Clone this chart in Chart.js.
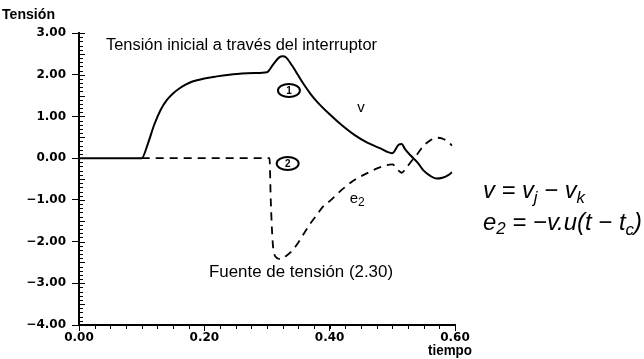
<!DOCTYPE html>
<html>
<head>
<meta charset="utf-8">
<script src="https://cdn.jsdelivr.net/npm/chart.js@4/dist/chart.umd.min.js"></script>
<style>
  html, body { margin: 0; padding: 0; background: #fff; }
  #wrap { width: 644px; height: 359px; position: relative; }
</style>
</head>
<body>
<div id="wrap"><canvas id="c" width="644" height="359"></canvas></div>
<script>
// curve v (solid): tiempo / tensión
var tV = [0, 0.10, 0.11, 0.12, 0.13, 0.14, 0.15, 0.16, 0.17, 0.18, 0.20, 0.22, 0.24, 0.26, 0.28, 0.30,
  0.31, 0.32, 0.325, 0.33, 0.34, 0.35, 0.36, 0.37, 0.38, 0.40, 0.42, 0.44, 0.46, 0.48, 0.50,
  0.51, 0.515, 0.52, 0.53, 0.54, 0.55, 0.56, 0.57, 0.58, 0.59, 0.595];
var vV = [0, 0, 0.35, 0.8, 1.15, 1.39, 1.55, 1.67, 1.76, 1.83, 1.91, 1.96, 2.0, 2.03, 2.04, 2.06,
  2.25, 2.42, 2.44, 2.42, 2.22, 1.98, 1.74, 1.53, 1.35, 1.05, 0.78, 0.55, 0.37, 0.24, 0.12,
  0.32, 0.34, 0.22, 0.05, -0.1, -0.3, -0.42, -0.49, -0.47, -0.4, -0.34];

// curve e2 (dashed)
var tE2 = [0.10, 0.304, 0.306, 0.309, 0.313, 0.322, 0.33, 0.34, 0.35, 0.36, 0.37, 0.38, 0.39, 0.40,
  0.42, 0.44, 0.46, 0.48, 0.50, 0.51, 0.515, 0.52, 0.53, 0.54, 0.55, 0.56, 0.57, 0.58, 0.59, 0.595];
var vE2 = [0, 0, -1.0, -2.0, -2.35, -2.42, -2.35, -2.22, -2.02, -1.78, -1.55, -1.35, -1.15, -1.03,
  -0.75, -0.52, -0.36, -0.22, -0.15, -0.3, -0.35, -0.28, -0.08, 0.1, 0.3, 0.42, 0.49, 0.47, 0.38, 0.3];

var xTicks = [0, 0.2, 0.4, 0.6];
var yTicks = [3, 2, 1, 0, -1, -2, -3, -4];

function pts(xs, ys) {
  return xs.map(function (x, i) { return { x: x, y: ys[i] }; });
}

function fmt(v) {
  var s = Math.abs(v).toFixed(2);
  return v < 0 ? '\u2212' + s : s;
}

// draw a run of text pieces squeezed to a given width
function rich(ctx, parts, x, base, width, italic) {
  var total = 0;
  parts.forEach(function (p) {
    ctx.font = (italic ? 'italic ' : '') + (p.w || '') + ' ' + p.s + 'px "Liberation Sans", Arial, sans-serif';
    p.mw = ctx.measureText(p.t).width;
    total += p.mw;
  });
  var sx = width ? width / total : 1;
  ctx.save();
  ctx.translate(x, base);
  ctx.scale(sx, 1);
  var cx = 0;
  parts.forEach(function (p) {
    ctx.font = (italic ? 'italic ' : '') + (p.w || '') + ' ' + p.s + 'px "Liberation Sans", Arial, sans-serif';
    ctx.fillText(p.t, cx, p.dy || 0);
    cx += p.mw;
  });
  ctx.restore();
}

function circled(ctx, cx, cy, label) {
  ctx.save();
  ctx.lineWidth = 2;
  ctx.strokeStyle = '#000';
  ctx.beginPath();
  ctx.ellipse(cx, cy, 11, 6.5, 0, 0, Math.PI * 2);
  ctx.stroke();
  ctx.font = 'bold 10px "Liberation Sans", Arial, sans-serif';
  ctx.textAlign = 'center';
  ctx.textBaseline = 'middle';
  ctx.fillText(label, cx, cy + 0.5);
  ctx.restore();
}

var ticksPlugin = {
  id: 'minorTicks',
  afterDraw: function (chart) {
    var ctx = chart.ctx, a = chart.chartArea;
    var xs = chart.scales.x, ys = chart.scales.y;
    ctx.save();
    ctx.strokeStyle = '#000';
    ctx.lineWidth = 1;
    ctx.beginPath();
    for (var i = -40; i <= 30; i++) {
      var py = Math.round(ys.getPixelForValue(i / 10)) + 0.5;
      ctx.moveTo(a.left, py);
      ctx.lineTo(a.left + (i % 5 === 0 ? 6 : 4), py);
    }
    for (var j = 0; j <= 24; j++) {
      var px = Math.round(xs.getPixelForValue(j * 0.025)) + 0.5;
      ctx.moveTo(px, a.bottom);
      ctx.lineTo(px, a.bottom + 4);
    }
    ctx.stroke();
    ctx.restore();
  }
};

var labelsPlugin = {
  id: 'labels',
  afterDraw: function (chart) {
    var ctx = chart.ctx;
    var xs = chart.scales.x, ys = chart.scales.y;
    ctx.save();
    ctx.fillStyle = '#000';
    ctx.textBaseline = 'alphabetic';

    rich(ctx, [{ t: 'Tensión', s: 15, w: 'bold' }], 2, 19, 53);
    rich(ctx, [{ t: 'tiempo', s: 15, w: 'bold' }], 428, 355, 44);

    rich(ctx, [{ t: 'Tensión inicial a través del interruptor', s: 16 }], 106, 50, 271);
    rich(ctx, [{ t: 'Fuente de tensión (2.30)', s: 16 }], 209, 277, 184);

    // curve names
    rich(ctx, [{ t: 'v', s: 15 }], xs.getPixelForValue(0.444), ys.getPixelForValue(1.1), 0);
    rich(ctx, [{ t: 'e', s: 15 }, { t: '2', s: 12, dy: 3 }], xs.getPixelForValue(0.432), ys.getPixelForValue(-1.08), 0);

    circled(ctx, xs.getPixelForValue(0.335), ys.getPixelForValue(1.62), '1');
    circled(ctx, xs.getPixelForValue(0.333), ys.getPixelForValue(-0.13), '2');

    // equations
    rich(ctx, [
      { t: 'v = v', s: 24 }, { t: 'j', s: 17, dy: 5 }, { t: ' \u2212 v', s: 24 }, { t: 'k', s: 17, dy: 5 }
    ], 483, 198, 102, true);
    rich(ctx, [
      { t: 'e', s: 24 }, { t: '2', s: 17, dy: 4 }, { t: ' = \u2212v.u(t \u2212 t', s: 24 }, { t: 'c', s: 17, dy: 5 }, { t: ')', s: 24 }
    ], 483, 230, 159, true);
    ctx.restore();
  }
};

new Chart(document.getElementById('c'), {
  type: 'scatter',
  data: {
    datasets: [
      {
        label: 'v',
        data: pts(tV, vV),
        showLine: true,
        borderColor: '#000',
        borderWidth: 2,
        pointRadius: 0,
        cubicInterpolationMode: 'monotone'
      },
      {
        label: 'e2',
        data: pts(tE2, vE2),
        showLine: true,
        borderColor: '#000',
        borderWidth: 1.8,
        borderDash: [8, 6],
        pointRadius: 0,
        cubicInterpolationMode: 'monotone'
      }
    ]
  },
  options: {
    responsive: false,
    animation: false,
    layout: { padding: { top: 33, right: 189, left: 0, bottom: 0 } },
    plugins: { legend: { display: false }, tooltip: { enabled: false } },
    scales: {
      x: {
        type: 'linear',
        min: 0,
        max: 0.6,
        afterBuildTicks: function (s) { s.ticks = xTicks.map(function (v) { return { value: v }; }); },
        afterFit: function (s) { s.height = 34; },
        ticks: {
          callback: function (v) { return fmt(v); },
          color: '#000',
          font: { family: 'DejaVu Sans', size: 12, weight: 'bold' },
          padding: 0,
          maxRotation: 0
        },
        grid: { drawOnChartArea: false, tickLength: 6, color: '#000', lineWidth: 1 },
        border: { color: '#000', width: 2 }
      },
      y: {
        min: -4,
        max: 3,
        afterBuildTicks: function (s) { s.ticks = yTicks.map(function (v) { return { value: v }; }); },
        afterFit: function (s) { s.width = 79; },
        ticks: {
          callback: function (v) { return fmt(v); },
          color: '#000',
          font: { family: 'DejaVu Sans', size: 12, weight: 'bold' },
          padding: 6
        },
        grid: { drawOnChartArea: false, tickLength: 7, color: '#000', lineWidth: 1 },
        border: { color: '#000', width: 2 }
      }
    }
  },
  plugins: [ticksPlugin, labelsPlugin]
});
</script>
</body>
</html>
